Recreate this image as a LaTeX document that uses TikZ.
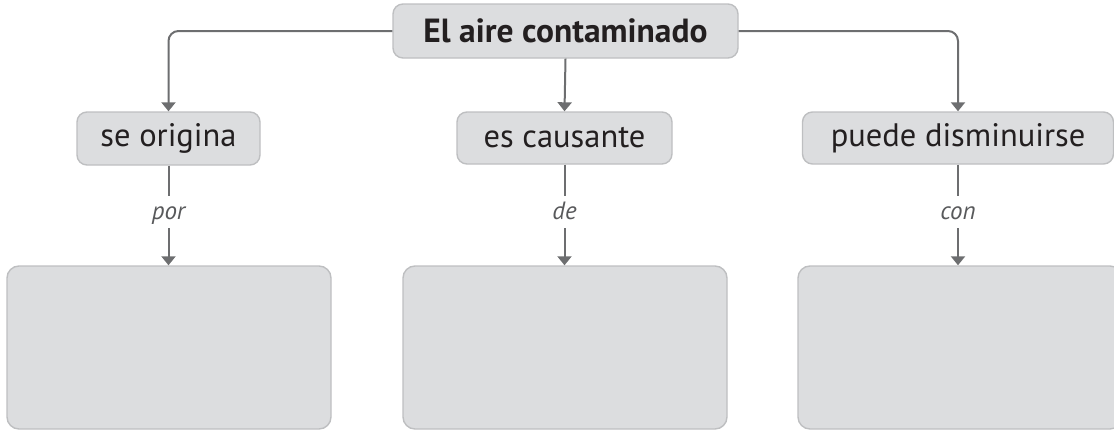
\documentclass[tikz,border=0pt]{standalone}
\usepackage{fontspec}
\setmainfont{PT Sans}
\usetikzlibrary{arrows.meta}
\definecolor{boxfill}{RGB}{220,221,223}
\definecolor{boxline}{RGB}{190,191,193}
\definecolor{conncol}{RGB}{109,110,112}
\definecolor{txtcol}{RGB}{35,31,32}
\definecolor{lblcol}{RGB}{88,89,91}
\tikzset{
  concept/.style={draw=boxline, fill=boxfill, line width=1.4pt, rounded corners=10pt,
    text=txtcol, inner sep=0pt, font=\fontsize{32.5}{38}\selectfont},
  topbox/.style={concept, font=\fontsize{33.5}{40}\selectfont\bfseries},
  answer/.style={draw=boxline, fill=boxfill, line width=1.4pt, rounded corners=12pt,
    minimum width=324pt, minimum height=163pt, inner sep=0pt},
  conn/.style={draw=conncol, line width=2pt, rounded corners=10pt},
  arr/.style={conn, -{Triangle[width=14pt,length=9pt]}},
  linklabel/.style={text=lblcol, inner sep=0pt, text height=23pt, text depth=9pt,
    font=\fontsize{25}{30}\selectfont\itshape}
}
\begin{document}
\begin{tikzpicture}[x=1pt,y=-1pt]
\useasboundingbox (0,0) rectangle (1114,431);
\node[topbox, minimum width=345pt, minimum height=54pt] (top) at (565.5,31) {El aire contaminado};
\node[concept, minimum width=183pt, minimum height=53pt] (so) at (168.5,138.5) {se origina};
\node[concept, minimum width=215pt, minimum height=52pt] (ec) at (564.5,138) {es causante};
\node[concept, minimum width=311pt, minimum height=52pt] (pd) at (958,138) {puede disminuirse};
\node[answer] (a1) at (169,347.5) {};
\node[answer] (a2) at (565,347.5) {};
\node[answer] (a3) at (960,347.5) {};
\node[linklabel] (l1) at (168.5,212) {por};
\node[linklabel] (l2) at (564.5,212) {de};
\node[linklabel] (l3) at (958,212) {con};
\draw[arr] (top.west) -| (so.north);
\draw[arr] (top.east) -| (pd.north);
\draw[arr] (top.south) -- (ec.north);
\draw[conn] (so.south) -- (l1.north);
\draw[arr] (l1.south) -- (a1.north -| l1.south);
\draw[conn] (ec.south) -- (l2.north);
\draw[arr] (l2.south) -- (a2.north -| l2.south);
\draw[conn] (pd.south) -- (l3.north);
\draw[arr] (l3.south) -- (a3.north -| l3.south);
\end{tikzpicture}
\end{document}
